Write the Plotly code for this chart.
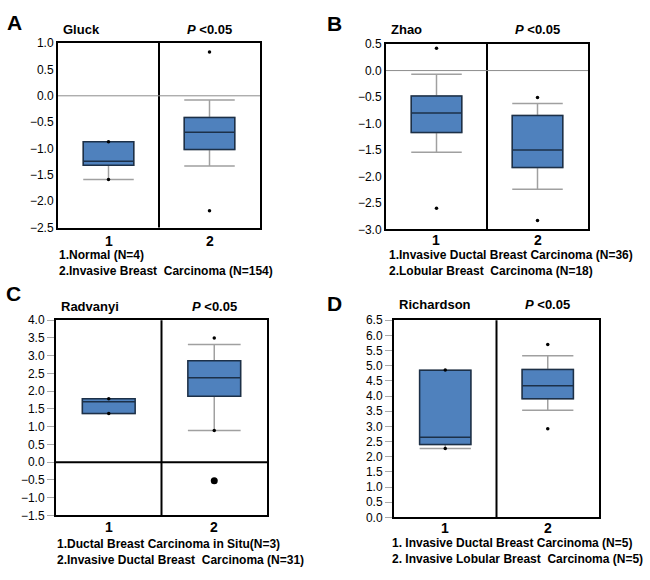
import plotly.graph_objects as go

# ---------------- data ----------------
categories = [1, 2]
cat_labels = ["1", "2"]

# Panel A – Gluck
gluck_q1 = [-1.32, -1.02]
gluck_median = [-1.24, -0.69]
gluck_q3 = [-0.87, -0.41]
gluck_low = [-1.59, -1.33]
gluck_high = [-0.87, -0.08]
gluck_pts_x = [1, 1, 2, 2]
gluck_pts_y = [-0.87, -1.59, 0.83, -2.18]

# Panel B – Zhao
zhao_q1 = [-1.17, -1.83]
zhao_median = [-0.80, -1.50]
zhao_q3 = [-0.48, -0.85]
zhao_low = [-1.54, -2.24]
zhao_high = [-0.07, -0.62]
zhao_pts_x = [1, 1, 2, 2]
zhao_pts_y = [0.42, -2.60, -0.51, -2.83]

# Panel C – Radvanyi
radv_q1 = [1.37, 1.86]
radv_median = [1.70, 2.38]
radv_q3 = [1.79, 2.86]
radv_low = [1.37, 0.89]
radv_high = [1.79, 3.32]
radv_pts_x = [1, 1, 2, 2]
radv_pts_y = [1.79, 1.37, 3.50, 0.89]
radv_big_x = [2]
radv_big_y = [-0.52]

# Panel D – Richardson
rich_q1 = [2.40, 3.91]
rich_median = [2.64, 4.34]
rich_q3 = [4.85, 4.88]
rich_low = [2.27, 3.53]
rich_high = [4.85, 5.33]
rich_pts_x = [1, 1, 2, 2]
rich_pts_y = [4.86, 2.27, 5.70, 2.92]

W, H = 650, 580
FONT = "Liberation Sans"

panels = [
    dict(name="A", study="Gluck", q1=gluck_q1, med=gluck_median, q3=gluck_q3,
         lo=gluck_low, hi=gluck_high, px=gluck_pts_x, py=gluck_pts_y,
         yr=[-2.5, 1.0], box=(58, 260, 37, 226), zero="gray", ticks=False,
         lines=["1.Normal (N=4)", "2.Invasive Breast  Carcinoma (N=154)"],
         letter=(14, 16), title_y=23, text_x=57, cat_y=240, l1=254, l2=271),
    dict(name="B", study="Zhao", q1=zhao_q1, med=zhao_median, q3=zhao_q3,
         lo=zhao_low, hi=zhao_high, px=zhao_pts_x, py=zhao_pts_y,
         yr=[-3.0, 0.5], box=(386, 588, 38, 228), zero="gray", ticks=False,
         lines=["1.Invasive Ductal Breast Carcinoma (N=36)", "2.Lobular Breast  Carcinoma (N=18)"],
         letter=(334, 17), title_y=23, text_x=387, cat_y=239, l1=254, l2=271),
    dict(name="C", study="Radvanyi", q1=radv_q1, med=radv_median, q3=radv_q3,
         lo=radv_low, hi=radv_high, px=radv_pts_x, py=radv_pts_y,
         yr=[-1.5, 4.0], box=(56, 267, 321, 521), zero="black", ticks=True,
         lines=["1.Ductal Breast Carcinoma in Situ(N=3)", "2.Invasive Ductal Breast  Carcinoma (N=31)"],
         letter=(13, 294), title_y=307, text_x=55, cat_y=533, l1=550, l2=567),
    dict(name="D", study="Richardson", q1=rich_q1, med=rich_median, q3=rich_q3,
         lo=rich_low, hi=rich_high, px=rich_pts_x, py=rich_pts_y,
         yr=[0.0, 6.5], box=(394, 599, 321, 523), zero=None, ticks=True,
         lines=["1. Invasive Ductal Breast Carcinoma (N=5)", "2. Invasive Lobular Breast  Carcinoma (N=5)"],
         letter=(334, 304), title_y=305, text_x=390, cat_y=534, l1=549, l2=566),
]

fig = go.Figure()
shapes = []
annotations = []
layout = {}

for i, p in enumerate(panels):
    n = "" if i == 0 else str(i + 1)
    xa, ya = "x" + n, "y" + n
    x0, x1, y0, y1 = p["box"]
    # whisker/box layer (gray)
    fig.add_trace(go.Box(
        x=categories, q1=p["q1"], median=p["med"], q3=p["q3"],
        lowerfence=p["lo"], upperfence=p["hi"], width=0.5, whiskerwidth=1,
        fillcolor="#4f81bd", line=dict(color="#a0a0a0", width=1.5),
        boxpoints=False, hoverinfo="skip", showlegend=False, xaxis=xa, yaxis=ya))
    # box body + median (dark)
    fig.add_trace(go.Box(
        x=categories, q1=p["q1"], median=p["med"], q3=p["q3"],
        lowerfence=p["q1"], upperfence=p["q3"], width=0.5, whiskerwidth=0,
        fillcolor="#4f81bd", line=dict(color="#1c3048", width=1.5),
        boxpoints=False, hoverinfo="skip", showlegend=False, xaxis=xa, yaxis=ya))
    fig.add_trace(go.Scatter(
        x=p["px"], y=p["py"], mode="markers",
        marker=dict(color="black", size=3.5), hoverinfo="skip",
        showlegend=False, xaxis=xa, yaxis=ya))
    if p["name"] == "C":
        fig.add_trace(go.Scatter(
            x=radv_big_x, y=radv_big_y, mode="markers",
            marker=dict(color="black", size=7), hoverinfo="skip",
            showlegend=False, xaxis=xa, yaxis=ya))

    layout["xaxis" + n] = dict(
        domain=[x0 / W, x1 / W], anchor=ya, range=[0.5, 2.5],
        showticklabels=False, showgrid=False, zeroline=False,
        showline=True, mirror=True, linecolor="black", linewidth=2, ticks="")
    layout["yaxis" + n] = dict(
        domain=[1 - y1 / H, 1 - y0 / H], anchor=xa, range=p["yr"], dtick=0.5,
        tickformat=".1f", showgrid=False, zeroline=False,
        showline=True, mirror=True, linecolor="black", linewidth=2,
        ticks="outside" if p["ticks"] else "", ticklen=7, tickcolor="#aaaaaa",
        tickwidth=1, tickfont=dict(family=FONT, size=12, color="black"))

    # divider between groups
    shapes.append(dict(type="line", xref=xa, yref=ya + " domain", x0=1.5, x1=1.5,
                       y0=0, y1=1, line=dict(color="black", width=2)))
    if p["zero"] == "gray":
        shapes.append(dict(type="line", xref=xa + " domain", yref=ya, x0=0, x1=1,
                           y0=0, y1=0, line=dict(color="#8c8c8c", width=1)))
    elif p["zero"] == "black":
        shapes.append(dict(type="line", xref=xa + " domain", yref=ya, x0=0, x1=1,
                           y0=0, y1=0, line=dict(color="black", width=2)))

    # category labels
    for c, lab in zip(categories, cat_labels):
        annotations.append(dict(text="<b>%s</b>" % lab, x=c, y=1 - p["cat_y"] / H,
                                xref=xa, yref="paper", showarrow=False,
                                xanchor="center", yanchor="middle",
                                font=dict(family=FONT, size=14, color="black")))
    # texts
    lx, ly = p["letter"]
    annotations.append(dict(text="<b>%s</b>" % p["name"], x=lx / W, y=1 - ly / H,
                            xref="paper", yref="paper", showarrow=False,
                            xanchor="center", yanchor="middle",
                            font=dict(family=FONT, size=21, color="black")))
    annotations.append(dict(text="<b>%s</b>" % p["study"], x=(x0 + 3) / W, y=1 - p["title_y"] / H,
                            xref="paper", yref="paper", showarrow=False,
                            xanchor="left", yanchor="middle",
                            font=dict(family=FONT, size=13, color="black")))
    annotations.append(dict(text="<b><i>P</i> <0.05</b>", x=(x0 + 0.75 * (x1 - x0)) / W,
                            y=1 - p["title_y"] / H,
                            xref="paper", yref="paper", showarrow=False,
                            xanchor="center", yanchor="middle",
                            font=dict(family=FONT, size=13, color="black")))
    for txt, yy in zip(p["lines"], [p["l1"], p["l2"]]):
        annotations.append(dict(text="<b>%s</b>" % txt, x=p["text_x"] / W, y=1 - yy / H,
                                xref="paper", yref="paper", showarrow=False,
                                xanchor="left", yanchor="middle",
                                font=dict(family=FONT, size=12, color="black")))

fig.update_layout(
    width=W, height=H, margin=dict(l=0, r=0, t=0, b=0),
    paper_bgcolor="white", plot_bgcolor="white", boxmode="overlay",
    shapes=shapes, annotations=annotations, showlegend=False,
    **layout)

fig.write_html("out.html", config={"displayModeBar": False},
               post_script="document.body.style.margin='0';document.body.style.overflow='hidden';")
